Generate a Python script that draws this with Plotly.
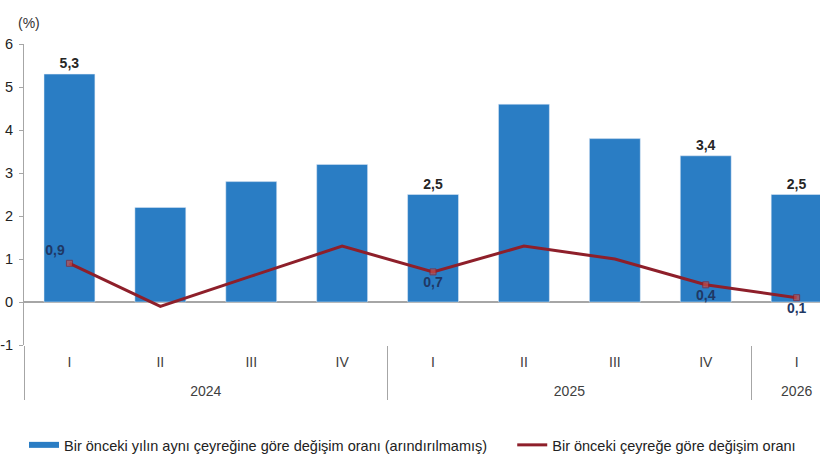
import plotly.graph_objects as go

years = ["2024", "2024", "2024", "2024", "2025", "2025", "2025", "2025", "2026"]
quarters = ["I", "II", "III", "IV", "I", "II", "III", "IV", "I"]
annual = [5.3, 2.2, 2.8, 3.2, 2.5, 4.6, 3.8, 3.4, 2.5]
quarterly = [0.9, -0.1, 0.6, 1.3, 0.7, 1.3, 1.0, 0.4, 0.1]
annual_labeled = [True, False, False, False, True, False, False, True, True]
quarterly_labeled = [True, False, False, False, True, False, False, True, True]
quarterly_label_pos = ["top left", "top center", "top center", "top center", "bottom center",
                       "top center", "top center", "bottom center", "bottom center"]
y_ticks = [-1, 0, 1, 2, 3, 4, 5, 6]
y_ticktext = ["-1", "0", "1", "2", "3", "4", "5", "6"]

name_annual = "Bir önceki yılın aynı çeyreğine göre değişim oranı (arındırılmamış)"
name_quarterly = "Bir önceki çeyreğe göre değişim oranı"

BLUE = "#2A7DC4"
RED = "#8E1F2A"
FONT = "Liberation Sans, Arial, sans-serif"

# quarter labels get an empty second line so the year row sits lower
x = [years, [q + "<br>\u00a0" for q in quarters]]

fig = go.Figure()
fig.add_trace(go.Bar(
    x=x, y=annual, name=name_annual, marker_color=BLUE, width=0.56,
    texttemplate=["%{y:.1f}" if s else "" for s in annual_labeled],
    textposition="outside", cliponaxis=False,
    textfont=dict(family=FONT, size=14, color="#262626", weight="bold"),
    showlegend=False,
))
fig.add_trace(go.Scatter(
    x=x, y=quarterly, name=name_quarterly, mode="lines+markers+text",
    line=dict(color=RED, width=3),
    marker=dict(symbol="square", size=[6 if s else 0 for s in quarterly_labeled], color="#C0504D"),
    texttemplate=["%{y:.1f}" if s else "" for s in quarterly_labeled],
    textposition=quarterly_label_pos, cliponaxis=False,
    textfont=dict(family=FONT, size=14, color="#1F3864", weight="bold"),
    showlegend=False,
))
# legend entries
fig.add_trace(go.Scatter(x=[None], y=[None], mode="lines", name=name_annual + "\u00a0" * 5,
                         line=dict(color=BLUE, width=6)))
fig.add_trace(go.Scatter(x=[None], y=[None], mode="lines", name=name_quarterly,
                         line=dict(color=RED, width=3)))

fig.update_layout(
    width=820, height=462,
    margin=dict(l=24, r=0, t=44, b=117),
    paper_bgcolor="white", plot_bgcolor="white",
    separators=",.",
    font=dict(family=FONT, size=14, color="#333333"),
    legend=dict(orientation="h", x=0.0, xanchor="left", y=-0.332, yanchor="middle",
                font=dict(family=FONT, size=14.5, color="#222222"), itemwidth=30),
    annotations=[dict(text="(%)", x=0.006, y=1.07, xref="paper", yref="paper",
                      xanchor="center", yanchor="middle",
                      showarrow=False, font=dict(family=FONT, size=14, color="#333333"))],
)
fig.update_yaxes(range=[-1, 6], tickvals=y_ticks, ticktext=y_ticktext, showgrid=False,
                 showline=True, linecolor="#A6A6A6", automargin=False,
                 linewidth=1, ticks="outside", ticklen=4, tickcolor="#A6A6A6",
                 ticklabelstandoff=3,
                 zeroline=True, zerolinecolor="#A6A6A6", zerolinewidth=1.5,
                 tickfont=dict(family=FONT, size=14.5, color="#222222"))
fig.update_xaxes(type="multicategory", range=[-0.5, 8.257], showgrid=False, showline=False,
                 automargin=False, ticks="", ticklabelstandoff=7,
                 showdividers=True, dividercolor="#A6A6A6", dividerwidth=1,
                 tickfont=dict(family=FONT, size=14, color="#404040"))

fig.write_html("out.html")
